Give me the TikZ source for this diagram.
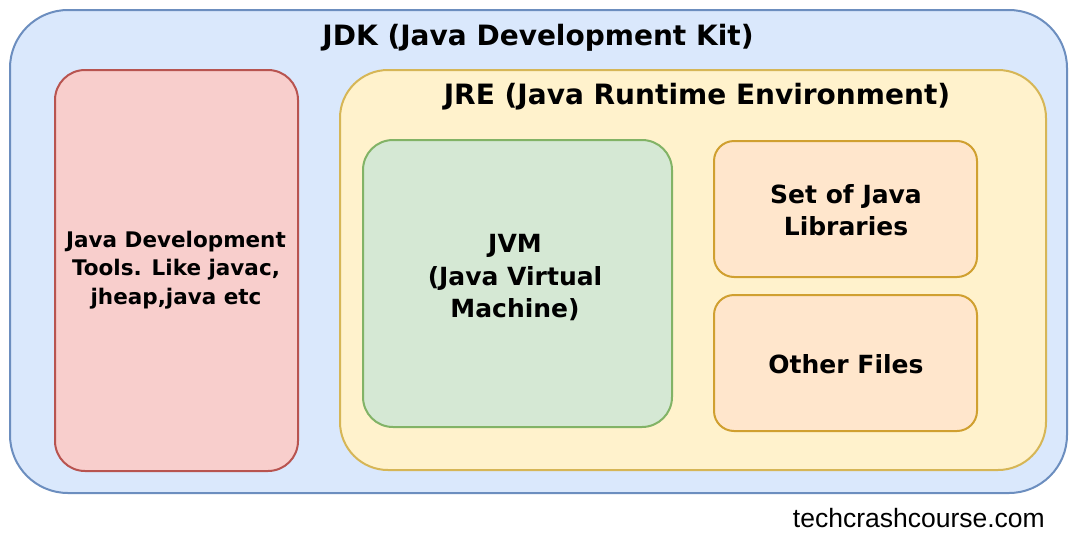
\documentclass[tikz,border=0pt]{standalone}
\usepackage{fontspec}
\setmainfont{DejaVu Sans}
\newfontfamily\wmfont{Liberation Sans}
\definecolor{jdkfill}{HTML}{DAE8FC}
\definecolor{jdkline}{HTML}{6C8EBF}
\definecolor{redfill}{HTML}{F8CECC}
\definecolor{redline}{HTML}{B85450}
\definecolor{jrefill}{HTML}{FFF2CC}
\definecolor{jreline}{HTML}{D6B656}
\definecolor{jvmfill}{HTML}{D5E8D4}
\definecolor{jvmline}{HTML}{82B366}
\definecolor{orfill}{HTML}{FFE6CC}
\definecolor{orline}{HTML}{D0A030}
\tikzset{
  boxst/.style={line width=2pt},
  lbl/.style={font=\fontsize{25}{32.5}\selectfont\bfseries, align=center, text=black, inner sep=0pt},
  lblsmall/.style={font=\fontsize{21.5}{28.5}\selectfont\bfseries, align=center, text=black, inner sep=0pt},
  ttl/.style={font=\fontsize{28}{30}\selectfont\bfseries, text=black, inner sep=0pt},
}
\begin{document}
\begin{tikzpicture}[x=1pt,y=-1pt]
\useasboundingbox[fill=white] (0,0) rectangle (1074,544);
% JDK
\draw[boxst, draw=jdkline, fill=jdkfill, rounded corners=58pt] (10,10) rectangle (1067,493);
\node[ttl] (jdk) at (538,38) {JDK (Java Development Kit)};
% tools
\draw[boxst, draw=redline, fill=redfill, rounded corners=30pt] (55,70) rectangle (298,471);
\node[lblsmall] (tools) at (176,270) {Java Development\\Tools. Like javac,\\jheap,java etc};
% JRE
\draw[boxst, draw=jreline, fill=jrefill, rounded corners=48pt] (340,70) rectangle (1046,470);
\node[ttl] (jre) at (697,97) {JRE (Java Runtime Environment)};
% JVM
\draw[boxst, draw=jvmline, fill=jvmfill, rounded corners=30pt] (363,140) rectangle (672,427);
\node[lbl] (jvm) at (515,278) {JVM\\(Java Virtual\\Machine)};
% libs
\draw[boxst, draw=orline, fill=orfill, rounded corners=20pt] (714,141) rectangle (977,277);
\node[lbl] (libs) at (846,210) {Set of Java\\Libraries};
% other
\draw[boxst, draw=orline, fill=orfill, rounded corners=20pt] (714,295) rectangle (977,431);
\node[lbl] (other) at (846,364) {Other Files};
% watermark
\node[font=\wmfont\fontsize{26.5}{28}\selectfont, anchor=east, inner sep=0pt] (wm) at (1045,518) {techcrashcourse.com};
\end{tikzpicture}
\end{document}
